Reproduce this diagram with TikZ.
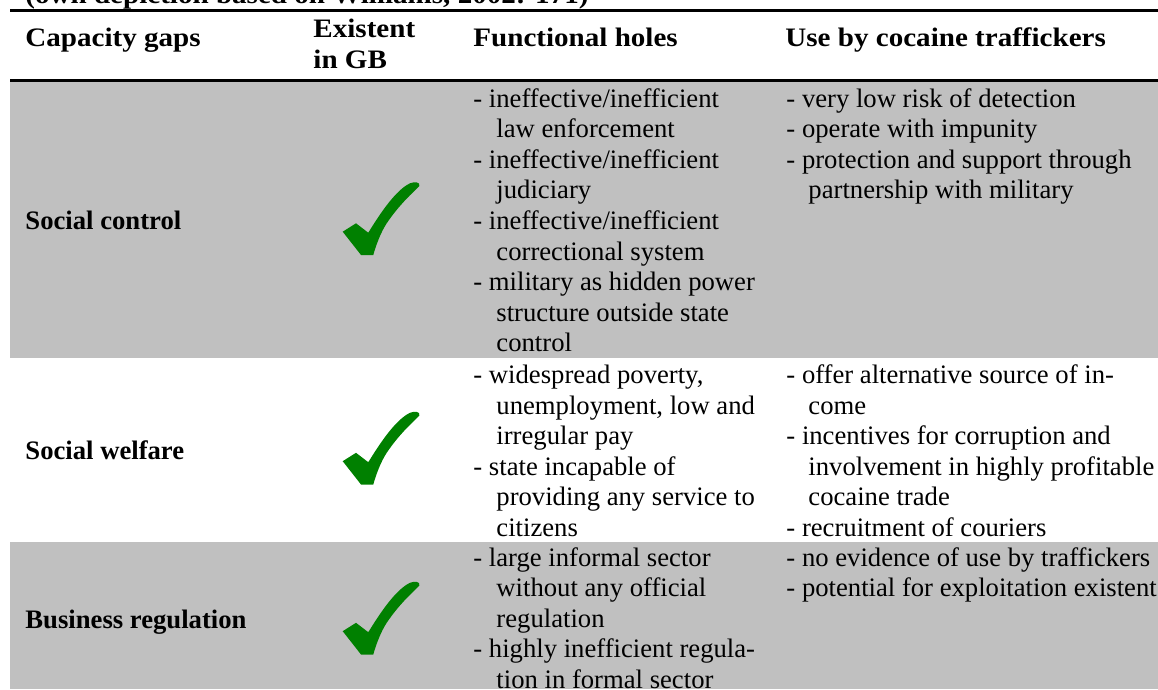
\documentclass[tikz,border=0pt]{standalone}
\usepackage{fontspec}
\setmainfont{Liberation Serif}
\newfontfamily\hdfont[FakeStretch=1.09]{Liberation Serif}
\definecolor{rowgrey}{HTML}{C0C0C0}
\definecolor{tickgreen}{HTML}{008000}
\begin{document}
\begin{tikzpicture}[x=0.45pt,y=-0.45pt,
  bodytxt/.style={font=\fontsize{12}{14}\selectfont, anchor=base west, inner sep=0pt},
  labtxt/.style={font=\fontsize{12}{14}\selectfont\bfseries, anchor=base west, inner sep=0pt},
  headtxt/.style={font={\fontsize{12}{14}\hdfont\bfseries}, anchor=base west, inner sep=0pt},
  tablerule/.style={line width=1.2pt},
  tickmark/.pic={\fill[tickgreen] (-38.3,11.7) -- (-25,3.3) -- (-12.7,12.7)
      .. controls (0,-8) and (15,-30) .. (29,-36.7)
      .. controls (33,-38.5) and (40,-38) .. (38.3,-34)
      .. controls (36,-31) and (20,-18) .. (5.7,3.3)
      .. controls (0,12) and (-5,25) .. (-7.7,35)
      -- (-20,35) -- cycle;}]
\useasboundingbox (0,0) rectangle (1158,689);
\clip (0,0) rectangle (1158,689);
% row backgrounds
\fill[rowgrey] (10,81.5) rectangle (1158,358);
\fill[rowgrey] (10,542) rectangle (1158,689);
% rules
\draw[tablerule] (10,10.7) -- (1158,10.7);
\draw[tablerule] (10,80.3) -- (1158,80.3);
% title
\node[headtxt] (title) at (25,4) {(own depiction based on Williams, 2002: 171)};
% header
\node[headtxt] (h1) at (25,46.7) {Capacity gaps};
\node[headtxt] (h2a) at (313,37.7) {Existent};
\node[headtxt] (h2b) at (313,68.3) {in GB};
\node[headtxt] (h3) at (473,46.7) {Functional holes};
\node[headtxt] (h4) at (785,46.7) {Use by cocaine traffickers};
% row labels
\node[labtxt] (r1) at (25,229) {Social control};
\node[labtxt] (r2) at (25,459) {Social welfare};
\node[labtxt] (r3) at (25,628) {Business regulation};
% check marks
\pic (ck1) at (381,220) {tickmark};
\pic (ck2) at (381,449.5) {tickmark};
\pic (ck3) at (381,619.5) {tickmark};
% row 1, functional holes
\node[bodytxt] (a1) at (473,107) {- ineffective/inefficient};
\node[bodytxt] (a2) at (496,137.6) {law enforcement};
\node[bodytxt] (a3) at (473,168.2) {- ineffective/inefficient};
\node[bodytxt] (a4) at (496,198.8) {judiciary};
\node[bodytxt] (a5) at (473,229.4) {- ineffective/inefficient};
\node[bodytxt] (a6) at (496,260) {correctional system};
\node[bodytxt] (a7) at (473,290.6) {- military as hidden power};
\node[bodytxt] (a8) at (496,321.2) {structure outside state};
\node[bodytxt] (a9) at (496,351.8) {control};
% row 1, use
\node[bodytxt] (b1) at (786,107) {- very low risk of detection};
\node[bodytxt] (b2) at (786,137.6) {- operate with impunity};
\node[bodytxt] (b3) at (786,168.2) {- protection and support through};
\node[bodytxt] (b4) at (808,198.8) {partnership with military};
% row 2, functional holes
\node[bodytxt] (c1) at (473,383.5) {- widespread poverty,};
\node[bodytxt] (c2) at (496,414) {unemployment, low and};
\node[bodytxt] (c3) at (496,444.5) {irregular pay};
\node[bodytxt] (c4) at (473,475) {- state incapable of};
\node[bodytxt] (c5) at (496,505.5) {providing any service to};
\node[bodytxt] (c6) at (496,536) {citizens};
% row 2, use
\node[bodytxt] (d1) at (786,383.5) {- offer alternative source of in-};
\node[bodytxt] (d2) at (808,414) {come};
\node[bodytxt] (d3) at (786,444.5) {- incentives for corruption and};
\node[bodytxt] (d4) at (808,475) {involvement in highly profitable};
\node[bodytxt] (d5) at (808,505.5) {cocaine trade};
\node[bodytxt] (d6) at (786,536) {- recruitment of couriers};
% row 3, functional holes
\node[bodytxt] (e1) at (473,566) {- large informal sector};
\node[bodytxt] (e2) at (496,596.5) {without any official};
\node[bodytxt] (e3) at (496,627) {regulation};
\node[bodytxt] (e4) at (473,657.5) {- highly inefficient regula-};
\node[bodytxt] (e5) at (496,688) {tion in formal sector};
% row 3, use
\node[bodytxt] (f1) at (786,566) {- no evidence of use by traffickers};
\node[bodytxt] (f2) at (786,596.5) {- potential for exploitation existent};
\end{tikzpicture}
\end{document}
